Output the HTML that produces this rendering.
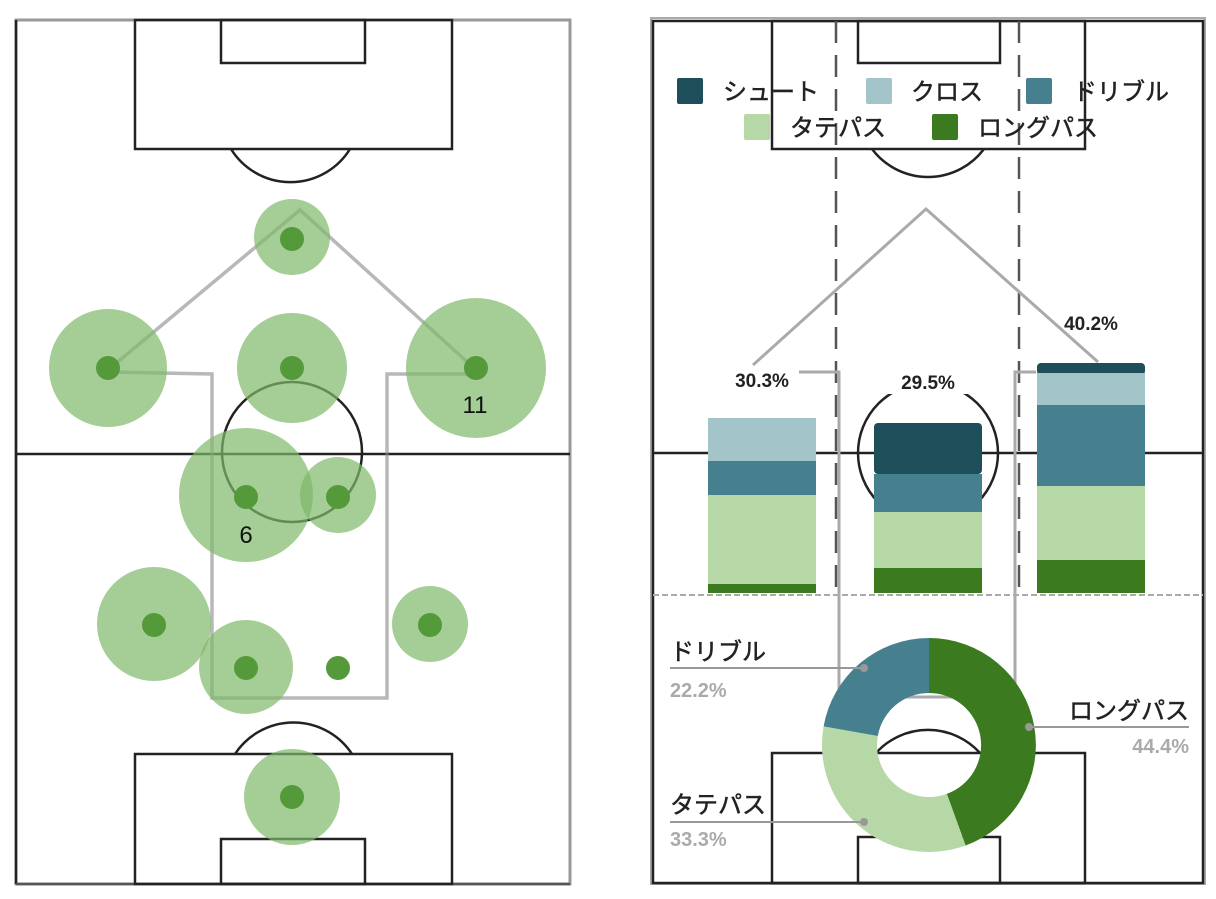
<!DOCTYPE html>
<html><head><meta charset="utf-8"><style>
html,body{margin:0;padding:0;background:#fff;}
svg{display:block;}
text{font-family:"Liberation Sans","Noto Sans CJK JP",sans-serif;}
</style></head><body>
<svg width="1216" height="899" viewBox="0 0 1216 899" xmlns="http://www.w3.org/2000/svg">
<!-- LEFT PITCH -->
<g fill="none" stroke="#222" stroke-width="2.5">
  <rect x="16" y="20" width="554" height="864" stroke="#999" stroke-width="3"/>
  <line x1="16" y1="20" x2="16" y2="884" stroke="#222"/>
  <line x1="16" y1="884" x2="570" y2="884" stroke="#555"/>
  <line x1="16" y1="454" x2="570" y2="454"/>
  <rect x="135" y="20" width="317" height="129"/>
  <rect x="221" y="20" width="144" height="43"/>
  <path d="M231 149 A70 70 0 0 0 350 149"/>
  <circle cx="292" cy="452" r="70"/>
  <rect x="135" y="754" width="317" height="130"/>
  <rect x="221" y="839" width="144" height="45"/>
  <path d="M235 754 A70 70 0 0 1 352 754"/>
</g>
<g fill="none" stroke="#888" stroke-opacity="0.6" stroke-width="3.5">
  <polyline points="108,370 300,210 476,370"/>
  <polyline points="108,372 212,374 212,698 387,698 387,374 476,374"/>
</g>
<g fill="#7fb86a" fill-opacity="0.7">
  <circle cx="292" cy="237" r="38"/>
  <circle cx="108" cy="368" r="59"/>
  <circle cx="292" cy="368" r="55"/>
  <circle cx="476" cy="368" r="70"/>
  <circle cx="246" cy="495" r="67"/>
  <circle cx="338" cy="495" r="38"/>
  <circle cx="154" cy="624" r="57"/>
  <circle cx="246" cy="667" r="47"/>
  <circle cx="430" cy="624" r="38"/>
  <circle cx="292" cy="797" r="48"/>
</g>
<g fill="#549a3a">
  <circle cx="292" cy="239" r="12"/>
  <circle cx="108" cy="368" r="12"/>
  <circle cx="292" cy="368" r="12"/>
  <circle cx="476" cy="368" r="12"/>
  <circle cx="246" cy="497" r="12"/>
  <circle cx="338" cy="497" r="12"/>
  <circle cx="154" cy="625" r="12"/>
  <circle cx="246" cy="668" r="12"/>
  <circle cx="338" cy="668" r="12"/>
  <circle cx="430" cy="625" r="12"/>
  <circle cx="292" cy="797" r="12"/>
</g>
<text x="475" y="413" font-size="24" text-anchor="middle" fill="#111">11</text>
<text x="246" y="543" font-size="24" text-anchor="middle" fill="#111">6</text>

<!-- RIGHT PITCH -->
<g fill="none" stroke="#222" stroke-width="2.5">
  <rect x="651" y="18" width="554" height="866" stroke="#aaa" stroke-width="2"/>
  <rect x="653" y="21" width="550" height="862"/>
  <line x1="653" y1="453" x2="1203" y2="453"/>
  <rect x="772" y="21" width="313" height="128"/>
  <rect x="858" y="21" width="142" height="42"/>
  <path d="M872 149 A70 70 0 0 0 984 149"/>
  <circle cx="928" cy="453" r="70"/>
  <rect x="772" y="753" width="313" height="130"/>
  <rect x="858" y="837" width="142" height="46"/>
  <path d="M876 753 A70 70 0 0 1 980 753"/>
</g>
<g stroke="#555" stroke-width="2.5" stroke-dasharray="22,12">
  <line x1="836" y1="21" x2="836" y2="593"/>
  <line x1="1019" y1="21" x2="1019" y2="593"/>
</g>
<line x1="653" y1="595" x2="1203" y2="595" stroke="#aaa" stroke-width="2" stroke-dasharray="6,3"/>
<g fill="none" stroke="#aaa" stroke-width="3">
  <polyline points="753,365 926,209 1098,362"/>
  <polyline points="799,372 839,372 839,697 1015,697 1015,372 1036,372"/>
</g>
<!-- legend -->
<g font-size="24" fill="#222" stroke="#222" stroke-width="0.5">
  <rect x="677" y="78" width="26" height="26" rx="2" fill="#1e4e5a" stroke="none"/>
  <text x="723" y="100">シュート</text>
  <rect x="866" y="78" width="26" height="26" rx="2" fill="#a3c4c8" stroke="none"/>
  <text x="911" y="100">クロス</text>
  <rect x="1026" y="78" width="26" height="26" rx="2" fill="#46808e" stroke="none"/>
  <text x="1073" y="100">ドリブル</text>
  <rect x="744" y="114" width="26" height="26" rx="2" fill="#b5d8a6" stroke="none"/>
  <text x="790" y="136">タテパス</text>
  <rect x="932" y="114" width="26" height="26" rx="2" fill="#3b7a1e" stroke="none"/>
  <text x="978" y="136">ロングパス</text>
</g>
<!-- bars -->
<rect x="708" y="418" width="108" height="43" fill="#a3c4c8"/>
<rect x="708" y="461" width="108" height="34" fill="#46808e"/>
<rect x="708" y="495" width="108" height="89" fill="#b5d8a6"/>
<rect x="708" y="584" width="108" height="9" fill="#3b7a1e"/>

<rect x="874" y="423" width="108" height="51" rx="4" fill="#1e4e5a"/>
<rect x="874" y="474" width="108" height="38" fill="#46808e"/>
<rect x="874" y="512" width="108" height="56" fill="#b5d8a6"/>
<rect x="874" y="568" width="108" height="25" fill="#3b7a1e"/>

<rect x="1037" y="363" width="108" height="12" rx="4" fill="#1e4e5a"/>
<rect x="1037" y="373" width="108" height="32" fill="#a3c4c8"/>
<rect x="1037" y="405" width="108" height="81" fill="#46808e"/>
<rect x="1037" y="486" width="108" height="74" fill="#b5d8a6"/>
<rect x="1037" y="560" width="108" height="33" fill="#3b7a1e"/>
<g font-size="19" fill="#222" text-anchor="middle" font-weight="bold">
  <rect x="888" y="370" width="80" height="24" fill="#fff"/>
  <text x="762" y="387">30.3%</text>
  <text x="928" y="389">29.5%</text>
  <text x="1091" y="330">40.2%</text>
</g>
<!-- donut -->
<path d="M929 638 A107 107 0 0 1 965.6 845.5 L946.8 793.9 A52 52 0 0 0 929 693 Z" fill="#3b7a1e"/>
<path d="M965.6 845.5 A107 107 0 0 1 823.6 726.4 L877.8 736.0 A52 52 0 0 0 946.8 793.9 Z" fill="#b5d8a6"/>
<path d="M823.6 726.4 A107 107 0 0 1 929 638 L929 693 A52 52 0 0 0 877.8 736.0 Z" fill="#46808e"/>
<g stroke="#999" stroke-width="2">
  <line x1="670" y1="668" x2="864" y2="668"/>
  <line x1="1029" y1="727" x2="1189" y2="727"/>
  <line x1="670" y1="822" x2="864" y2="822"/>
</g>
<g fill="#999">
  <circle cx="864" cy="668" r="4"/>
  <circle cx="1029" cy="727" r="4"/>
  <circle cx="864" cy="822" r="4"/>
</g>
<g font-size="24" fill="#222" stroke="#222" stroke-width="0.5">
  <text x="670" y="660">ドリブル</text>
  <text x="1189" y="719" text-anchor="end">ロングパス</text>
  <text x="670" y="813">タテパス</text>
</g>
<g font-size="20" fill="#aaa" font-weight="bold">
  <text x="670" y="697">22.2%</text>
  <text x="1189" y="753" text-anchor="end">44.4%</text>
  <text x="670" y="846">33.3%</text>
</g>
</svg>
</body></html>
